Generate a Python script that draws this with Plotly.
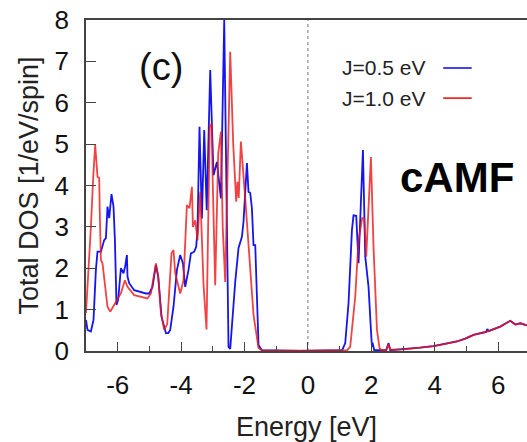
import plotly.graph_objects as go

# Total density of states for two Hund's coupling values (cAMF)
energy_j05 = [-7.00, -6.953, -6.845, -6.763, -6.688, -6.637, -6.530, -6.426, -6.372, -6.322,
              -6.268, -6.196, -6.132, -6.088, -6.038, -5.984, -5.899, -5.817, -5.763, -5.710,
              -5.691, -5.637, -5.480, -5.322, -5.110, -5.006, -4.902, -4.795, -4.722, -4.618,
              -4.479, -4.407, -4.344, -4.240, -4.132, -4.028, -3.943, -3.871, -3.767, -3.691,
              -3.587, -3.524, -3.483, -3.420, -3.344, -3.271, -3.192, -3.082, -2.978, -2.871,
              -2.744, -2.640, -2.505, -2.451, -2.293, -2.189, -2.082, -2.032, -1.924, -1.874,
              -1.820, -1.767, -1.716, -1.662, -1.558, -1.451, -0.24, 1.082, 1.177, 1.281,
              1.388, 1.438, 1.524, 1.596, 1.735, 1.808, 1.912, 1.987, 2.019, 2.038,
              2.091, 2.470, 2.543, 2.596, 3.016, 3.54, 3.962, 4.331, 4.700, 4.962,
              5.224, 5.620, 5.660, 5.700, 6.066, 6.22, 6.382, 6.539, 6.697, 6.855, 7.01]
dos_j05 = [0.75, 0.51, 0.47, 0.75, 1.96, 2.40, 2.40, 2.68, 2.73, 3.49,
           3.21, 3.79, 3.49, 2.68, 1.11, 1.25, 2.00, 1.88, 2.05, 2.32,
           1.80, 1.64, 1.47, 1.43, 1.39, 1.39, 1.55, 2.08, 1.80, 0.83,
           0.43, 0.43, 0.51, 1.07, 1.96, 2.32, 2.12, 1.55, 1.96, 2.36,
           2.40, 2.52, 2.92, 5.42, 3.20, 5.34, 3.40, 6.79, 4.25, 4.57,
           3.69, 8.00, 0.10, 0.05, 1.67, 2.49, 2.76, 3.12, 4.54, 3.85,
           3.82, 3.45, 2.56, 2.56, 0.14, 0.02, 0.00, 0.02, 0.19, 1.16,
           2.92, 3.28, 3.27, 2.12, 4.86, 2.28, 1.55, 0.51, 0.10, 0.20,
           0.02, 0.02, 0.19, 0.02, 0.04, 0.08, 0.12, 0.17, 0.23, 0.30,
           0.39, 0.46, 0.53, 0.48, 0.59, 0.66, 0.73, 0.64, 0.67, 0.63, 0.60]

energy_j10 = [-7.00, -6.931, -6.845, -6.773, -6.710, -6.637, -6.584, -6.568, -6.530, -6.479,
              -6.426, -6.322, -6.237, -6.057, -5.899, -5.773, -5.691, -5.480, -5.218, -5.060,
              -4.953, -4.795, -4.722, -4.637, -4.533, -4.438, -4.303, -4.240, -4.186, -4.028,
              -3.924, -3.817, -3.735, -3.659, -3.628, -3.555, -3.483, -3.397, -3.293, -3.199,
              -3.098, -3.035, -3.004, -2.925, -2.830, -2.744, -2.688, -2.609, -2.451, -2.356,
              -2.262, -2.221, -2.183, -2.114, -1.978, -1.874, -1.716, -1.558, -1.442, 0.0,
              1.240, 1.334, 1.492, 1.596, 1.713, 1.776, 1.839, 1.987, 2.069, 2.177,
              2.259, 2.31, 2.470, 2.543, 2.596, 3.016, 3.54, 3.962, 4.331, 4.700,
              4.962, 5.224, 5.647, 6.066, 6.22, 6.382, 6.539, 6.697, 6.855, 7.01]
dos_j10 = [0.92, 1.80, 3.00, 4.20, 4.98, 4.21, 4.18, 3.45, 2.20, 2.12,
           1.80, 1.07, 0.95, 1.19, 1.40, 1.71, 1.55, 1.35, 1.31, 1.27,
           1.39, 2.12, 1.80, 0.92, 0.51, 0.65, 2.36, 2.44, 1.88, 1.39,
           1.71, 3.53, 3.45, 3.97, 3.00, 3.16, 2.68, 3.85, 1.60, 0.52,
           5.40, 5.50, 4.13, 1.59, 4.77, 5.30, 3.00, 1.67, 7.23, 5.00,
           3.61, 4.09, 3.70, 5.06, 3.69, 2.64, 0.87, 0.07, 0.01, 0.01,
           0.02, 0.10, 1.31, 2.68, 3.21, 3.20, 2.28, 4.69, 2.52, 0.51,
           0.07, 0.02, 0.02, 0.17, 0.03, 0.04, 0.08, 0.12, 0.17, 0.23,
           0.30, 0.39, 0.47, 0.59, 0.66, 0.73, 0.64, 0.67, 0.63, 0.60]

x_ticks = [-6, -4, -2, 0, 2, 4, 6]
y_ticks = [0, 1, 2, 3, 4, 5, 6, 7, 8]

BLUE = "#1515ee"
RED = "#ee1515"
FONT = "Liberation Sans, Arial, sans-serif"

fig = go.Figure()
fig.add_trace(go.Scatter(x=energy_j05, y=dos_j05, mode="lines", name="J=0.5 eV",
                         line=dict(color=BLUE, width=1.8), showlegend=False))
fig.add_trace(go.Scatter(x=energy_j10, y=dos_j10, mode="lines", name="J=1.0 eV",
                         line=dict(color=RED, width=1.8), opacity=0.8, showlegend=False))

# Fermi level marker
fig.add_shape(type="line", x0=0, x1=0, y0=0, y1=8, xref="x", yref="y",
              line=dict(color="#777777", width=1, dash="dot"), layer="below")

# Legend: label on the left, line sample on the right
for label, color, py in [("J=0.5 eV", BLUE, 0.855), ("J=1.0 eV", RED, 0.764)]:
    fig.add_annotation(x=0.7726, y=py, xref="paper", yref="paper", text=label,
                       showarrow=False, xanchor="right", yanchor="middle",
                       font=dict(family=FONT, size=21, color="#222222"))
    fig.add_shape(type="line", x0=0.810, x1=0.8746, y0=py, y1=py,
                  xref="paper", yref="paper", line=dict(color=color, width=1.6))

fig.add_annotation(x=0.171, y=0.858, xref="paper", yref="paper", text="(c)",
                   showarrow=False, xanchor="center", yanchor="middle",
                   font=dict(family=FONT, size=38, color="#111111"))
fig.add_annotation(x=0.841, y=0.5227, xref="paper", yref="paper", text="<b>cAMF</b>",
                   showarrow=False, xanchor="center", yanchor="middle",
                   font=dict(family=FONT, size=42, color="#000000"))

fig.update_layout(
    width=527, height=442,
    margin=dict(l=86, r=0, t=20, b=91),
    plot_bgcolor="white", paper_bgcolor="white",
    font=dict(family=FONT, color="#111111"),
    xaxis=dict(
        range=[-7, 6.91], tickvals=x_ticks, ticktext=[str(v) for v in x_ticks],
        ticks="inside", ticklen=9, tickwidth=1.2, tickcolor="#444444",
        minor=dict(dtick=1, tick0=-7, ticks="inside", ticklen=5, tickwidth=1.2, tickcolor="#444444"),
        showgrid=False, zeroline=False,
        showline=True, linecolor="#444444", linewidth=2, mirror=True,
        tickfont=dict(family=FONT, size=26, color="#111111"),
        ticklabelstandoff=10,
        title=dict(text="Energy [eV]", font=dict(family=FONT, size=27, color="#222222"), standoff=22),
    ),
    yaxis=dict(
        range=[0, 8], tickvals=y_ticks, ticktext=[str(v) for v in y_ticks],
        ticks="inside", ticklen=10, tickwidth=1.2, tickcolor="#444444",
        showgrid=False, zeroline=False,
        showline=True, linecolor="#444444", linewidth=1.5, mirror=False,
        tickfont=dict(family=FONT, size=26, color="#111111"),
        ticklabelstandoff=10,
        title=dict(text="Total DOS [1/eV/spin]", font=dict(family=FONT, size=27, color="#222222"), standoff=8),
    ),
)

fig.write_html("out.html")
